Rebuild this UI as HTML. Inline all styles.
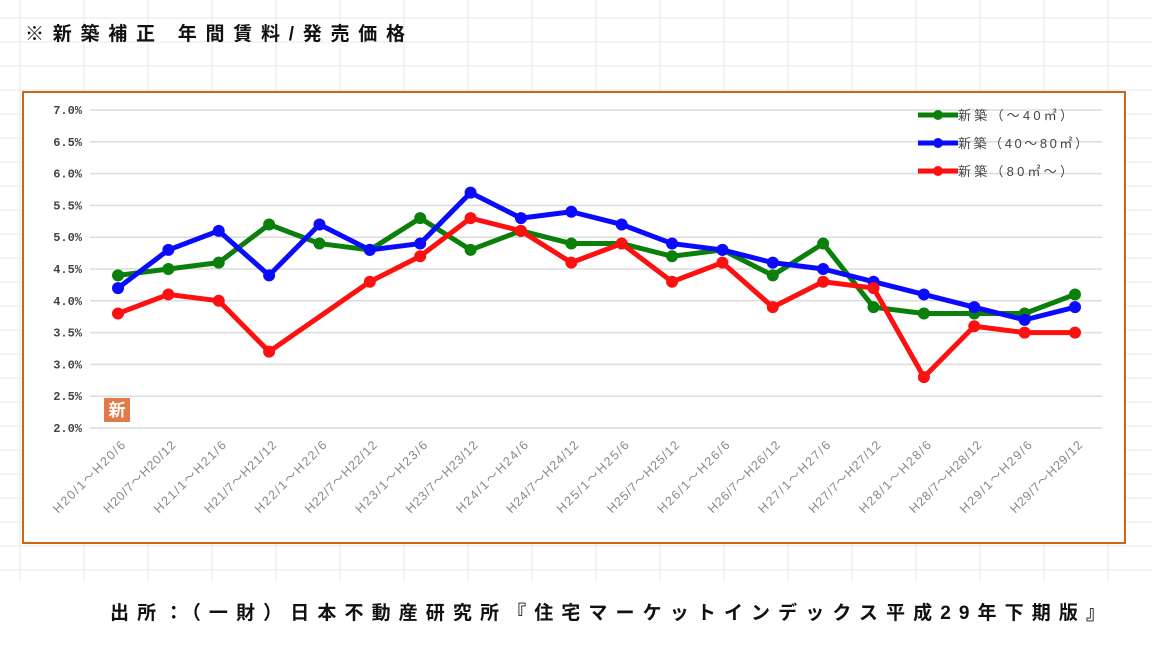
<!DOCTYPE html>
<html><head><meta charset="utf-8">
<style>
html,body{margin:0;padding:0;background:#fff;}
body{width:1152px;height:648px;position:relative;overflow:hidden;font-family:"Liberation Sans","Noto Sans CJK JP",sans-serif;}
</style></head>
<body>
<svg width="1152" height="648" xmlns="http://www.w3.org/2000/svg">
<g id="grid" stroke="#e8e8e8" stroke-width="1"></g>
<text x="25" y="40" font-size="19" font-weight="bold" fill="#111" textLength="380" lengthAdjust="spacing" font-family="'Liberation Sans','Noto Sans CJK JP',sans-serif">※新築補正 年間賃料/発売価格</text>
<rect x="0" y="580" width="1152" height="68" fill="#fff"/>
<text x="110" y="619" font-size="19" font-weight="bold" fill="#111" textLength="995" lengthAdjust="spacing" font-family="'Liberation Sans','Noto Sans CJK JP',sans-serif">出所：（一財）日本不動産研究所『住宅マーケットインデックス平成29年下期版』</text>
<rect x="23" y="92" width="1102" height="451" fill="#fff" stroke="#c8681c" stroke-width="2"/>
<g id="chart"></g>
<rect x="104" y="398" width="26" height="24" fill="#e07a48"/>
<text x="117" y="416" text-anchor="middle" font-size="17" font-weight="bold" fill="#fff" font-family="'Noto Sans CJK JP',sans-serif">新</text>
</svg>
<script>
const categories=["H20/1～H20/6","H20/7～H20/12","H21/1～H21/6","H21/7～H21/12","H22/1～H22/6","H22/7～H22/12","H23/1～H23/6","H23/7～H23/12","H24/1～H24/6","H24/7～H24/12","H25/1～H25/6","H25/7～H25/12","H26/1～H26/6","H26/7～H26/12","H27/1～H27/6","H27/7～H27/12","H28/1～H28/6","H28/7～H28/12","H29/1～H29/6","H29/7～H29/12"];
const seriesSmall=[4.4,4.5,4.6,5.2,4.9,4.8,5.3,4.8,5.1,4.9,4.9,4.7,4.8,4.4,4.9,3.9,3.8,3.8,3.8,4.1];
const seriesMid=[4.2,4.8,5.1,4.4,5.2,4.8,4.9,5.7,5.3,5.4,5.2,4.9,4.8,4.6,4.5,4.3,4.1,3.9,3.7,3.9];
const seriesLarge=[3.8,4.1,4.0,3.2,null,4.3,4.7,5.3,5.1,4.6,4.9,4.3,4.6,3.9,4.3,4.2,2.8,3.6,3.5,3.5];
const seriesNames=["新築（～40㎡）","新築（40～80㎡）","新築（80㎡～）"];
const yTicks=[2.0,2.5,3.0,3.5,4.0,4.5,5.0,5.5,6.0,6.5,7.0];
const NS="http://www.w3.org/2000/svg";
function mk(t,a,p){const e=document.createElementNS(NS,t);for(const k in a)e.setAttribute(k,a[k]);p.appendChild(e);return e;}
const g=document.getElementById('grid');
for(let x=20;x<1152;x+=64){mk('line',{x1:x,y1:0,x2:x,y2:648},g);}
for(let y=18;y<648;y+=24){mk('line',{x1:0,y1:y,x2:1152,y2:y},g);}
const c=document.getElementById('chart');
const x0=118,x1=1075,yMin=2,yMax=7,yTop=110,yBot=428;
const xs=i=>x0+i*(x1-x0)/(categories.length-1);
const ys=v=>yBot-(v-yMin)/(yMax-yMin)*(yBot-yTop);
yTicks.forEach(t=>{
 const l=mk('line',{x1:90,x2:1102,y1:ys(t),y2:ys(t),stroke:'#dcdcdc','stroke-width':1.5},c);
 
 
 const tx=mk('text',{x:82,y:ys(t)+4,'text-anchor':'end','font-size':12,'font-weight':'bold',fill:'#444','font-family':'Liberation Mono,monospace'},c);
 tx.textContent=t.toFixed(1)+'%';
 
 
});
categories.forEach((cat,i)=>{
 const tx=mk('text',{x:0,y:0,'text-anchor':'end','font-size':12.5,fill:'#888',textLength:cat.length>12?106:96,lengthAdjust:'spacing',transform:`translate(${xs(i)+8},${446}) rotate(-45)`,'font-family':"'Liberation Sans','Noto Sans CJK JP',sans-serif"},c);
 tx.textContent=cat;
 
 
});
const series=[[seriesSmall,'#0a800a'],[seriesMid,'#0a0aff'],[seriesLarge,'#ff1010']];
series.forEach(([vals,col],si)=>{
 const pts=[];vals.forEach((v,i)=>{if(v!==null)pts.push(xs(i)+','+ys(v));});
 const pl=mk('polyline',{points:pts.join(' '),fill:'none',stroke:col,'stroke-width':5,'stroke-linejoin':'round'},c);
 
 
 vals.forEach((v,i)=>{if(v===null)return;
  const d=mk('circle',{cx:xs(i),cy:ys(v),r:6,fill:col},c);
  
  
 });
 const ly=115+si*28;
 const ll=mk('line',{x1:918,x2:958,y1:ly,y2:ly,stroke:col,'stroke-width':5},c);
 
 
 mk('circle',{cx:938,cy:ly,r:5,fill:col},c);
 const lt=mk('text',{x:958,y:ly+5,'font-size':13,fill:'#444',textLength:si===1?130:115,lengthAdjust:'spacing','font-family':"'Liberation Sans','Noto Sans CJK JP',sans-serif"},c);
 lt.textContent=seriesNames[si];
 
 
});
</script>
</body></html>
